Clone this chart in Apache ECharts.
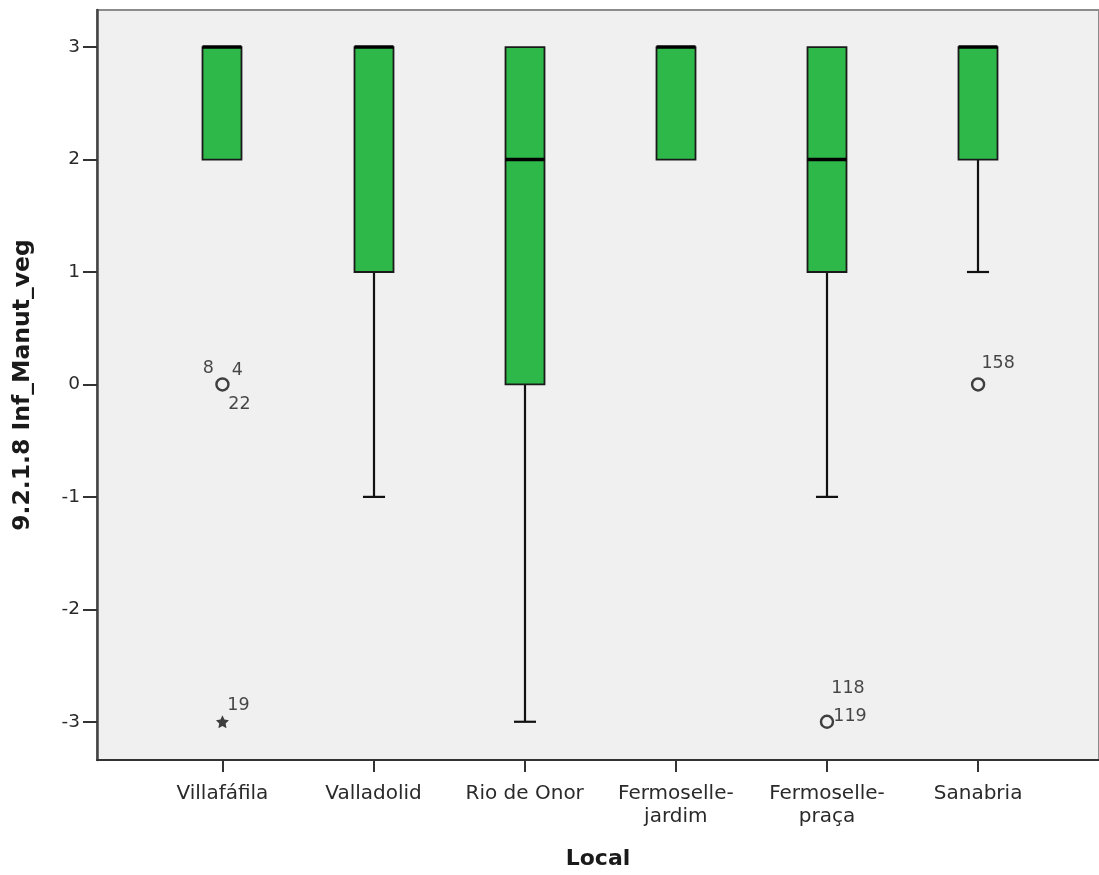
<!DOCTYPE html>
<html>
<head>
<meta charset="utf-8">
<script src="https://cdn.jsdelivr.net/npm/echarts@6/dist/echarts.min.js"></script>
<style>
html,body{margin:0;padding:0;background:#fff;}
#chart{width:1099px;height:875px;}
</style>
</head>
<body>
<div id="chart"></div>
<script>
// ---- data ----
const categories = ['Villafáfila', 'Valladolid', 'Rio de Onor', 'Fermoselle-\njardim', 'Fermoselle-\npraça', 'Sanabria'];
const whiskerLow  = [2, -1, -3, 2, -1, 1];
const quartile1   = [2,  1,  0, 2,  1, 2];
const medians     = [3,  3,  2, 3,  2, 3];
const quartile3   = [3,  3,  3, 3,  3, 3];
const whiskerHigh = [3,  3,  3, 3,  3, 3];
const outlierCat   = [0, 4, 5];
const outlierValue = [0, -3, 0];
const extremeCat   = [0];
const extremeValue = [-3];
const caseCat   = [0, 0, 0, 0, 4, 4, 5];
const caseValue = [0, 0, 0, -3, -3, -3, 0];
const caseText  = ['8', '4', '22', '19', '118', '119', '158'];
const yTicks = [-3, -2, -1, 0, 1, 2, 3];

// ---- styles (label offsets in px) ----
const caseOffsets = {'8': [-14, -16], '4': [15, -14], '22': [17, 20], '19': [16, -16], '118': [21, -33], '119': [23, -5], '158': [20, -21]};

const boxData = categories.map((c, i) => [i, whiskerLow[i], quartile1[i], medians[i], quartile3[i], whiskerHigh[i]]);
const fontFam = 'DejaVu Sans';

function renderBox(params, api) {
  const x = api.value(0);
  const band = api.size([1, 0])[0];
  const halfBox = band * 0.129;
  const halfCap = band * 0.073;
  const pLow = api.coord([x, api.value(1)]);
  const pQ1 = api.coord([x, api.value(2)]);
  const pMed = api.coord([x, api.value(3)]);
  const pQ3 = api.coord([x, api.value(4)]);
  const pHigh = api.coord([x, api.value(5)]);
  const cx = Math.round(pQ1[0]);
  const children = [];
  const lineStyle = {stroke: '#111', lineWidth: 2.2};
  if (api.value(1) !== api.value(2)) {
    children.push({type: 'line', shape: {x1: cx, y1: pQ1[1], x2: cx, y2: pLow[1]}, style: lineStyle});
    children.push({type: 'line', shape: {x1: cx - halfCap, y1: pLow[1], x2: cx + halfCap, y2: pLow[1]}, style: lineStyle});
  }
  if (api.value(5) !== api.value(4)) {
    children.push({type: 'line', shape: {x1: cx, y1: pQ3[1], x2: cx, y2: pHigh[1]}, style: lineStyle});
    children.push({type: 'line', shape: {x1: cx - halfCap, y1: pHigh[1], x2: cx + halfCap, y2: pHigh[1]}, style: lineStyle});
  }
  children.push({type: 'rect', shape: {x: cx - halfBox, y: pQ3[1], width: halfBox * 2, height: pQ1[1] - pQ3[1]},
    style: {fill: '#2fb84a', stroke: '#1a1a1a', lineWidth: 1.8}});
  children.push({type: 'line', shape: {x1: cx - halfBox, y1: pMed[1], x2: cx + halfBox, y2: pMed[1]},
    style: {stroke: '#000', lineWidth: 3.5}});
  return {type: 'group', children: children};
}

const chart = echarts.init(document.getElementById('chart'));
chart.setOption({
  backgroundColor: '#ffffff',
  animation: false,
  grid: {left: 97, top: 10, right: 0, bottom: 113, show: true, backgroundColor: '#f0f0f0', borderColor: '#8c8c8c', borderWidth: 2},
  xAxis: {
    type: 'value', min: -0.83, max: 5.8,
    name: 'Local', nameLocation: 'middle', nameGap: 88,
    nameTextStyle: {fontFamily: fontFam, fontSize: 22, fontWeight: 'bold', color: '#1a1a1a'},
    axisLine: {show: true, onZero: false, lineStyle: {color: '#333', width: 2}},
    axisTick: {show: true, customValues: [0, 1, 2, 3, 4, 5], length: 12, lineStyle: {color: '#333', width: 2}},
    axisLabel: {customValues: [0, 1, 2, 3, 4, 5], formatter: v => categories[Math.round(v)], margin: 22,
      fontFamily: fontFam, fontSize: 20, color: '#2a2a2a', lineHeight: 23},
    splitLine: {show: false}
  },
  yAxis: {
    type: 'value', min: -3.34, max: 3.33,
    name: '9.2.1.8 Inf_Manut_veg', nameLocation: 'middle', nameGap: 62,
    nameTextStyle: {fontFamily: fontFam, fontSize: 23.5, fontWeight: 'bold', color: '#1a1a1a'},
    axisLine: {show: true, onZero: false, lineStyle: {color: '#444', width: 2.5}},
    axisTick: {show: true, customValues: yTicks, length: 14, lineStyle: {color: '#333', width: 2}},
    axisLabel: {customValues: yTicks, margin: 17, fontFamily: fontFam, fontSize: 18.5, color: '#2a2a2a'},
    splitLine: {show: false}
  },
  series: [
    {type: 'custom', renderItem: renderBox, data: boxData, encode: {x: 0, y: [1, 2, 3, 4, 5]}, z: 2},
    {type: 'scatter', data: outlierCat.map((c, i) => [c, outlierValue[i]]), symbol: 'circle', symbolSize: 12,
      itemStyle: {color: 'rgba(0,0,0,0)', borderColor: '#111', borderWidth: 2.4}, z: 3},
    {type: 'scatter', data: extremeCat.map((c, i) => [c, extremeValue[i]]),
      symbol: 'path://M0,-10 L2.9,-4 9.5,-3.1 4.7,1.5 5.9,8.1 0,5 -5.9,8.1 -4.7,1.5 -9.5,-3.1 -2.9,-4 Z', symbolSize: 13,
      itemStyle: {color: '#111'}, z: 3},
    {type: 'scatter', symbolSize: 0, z: 4,
      data: caseCat.map((c, i) => ({value: [c, caseValue[i]], label: {show: true, position: 'inside', offset: caseOffsets[caseText[i]],
        formatter: caseText[i], fontFamily: fontFam, fontSize: 17.5, color: '#1a1a1a'}}))}
  ]
});
</script>
</body>
</html>
